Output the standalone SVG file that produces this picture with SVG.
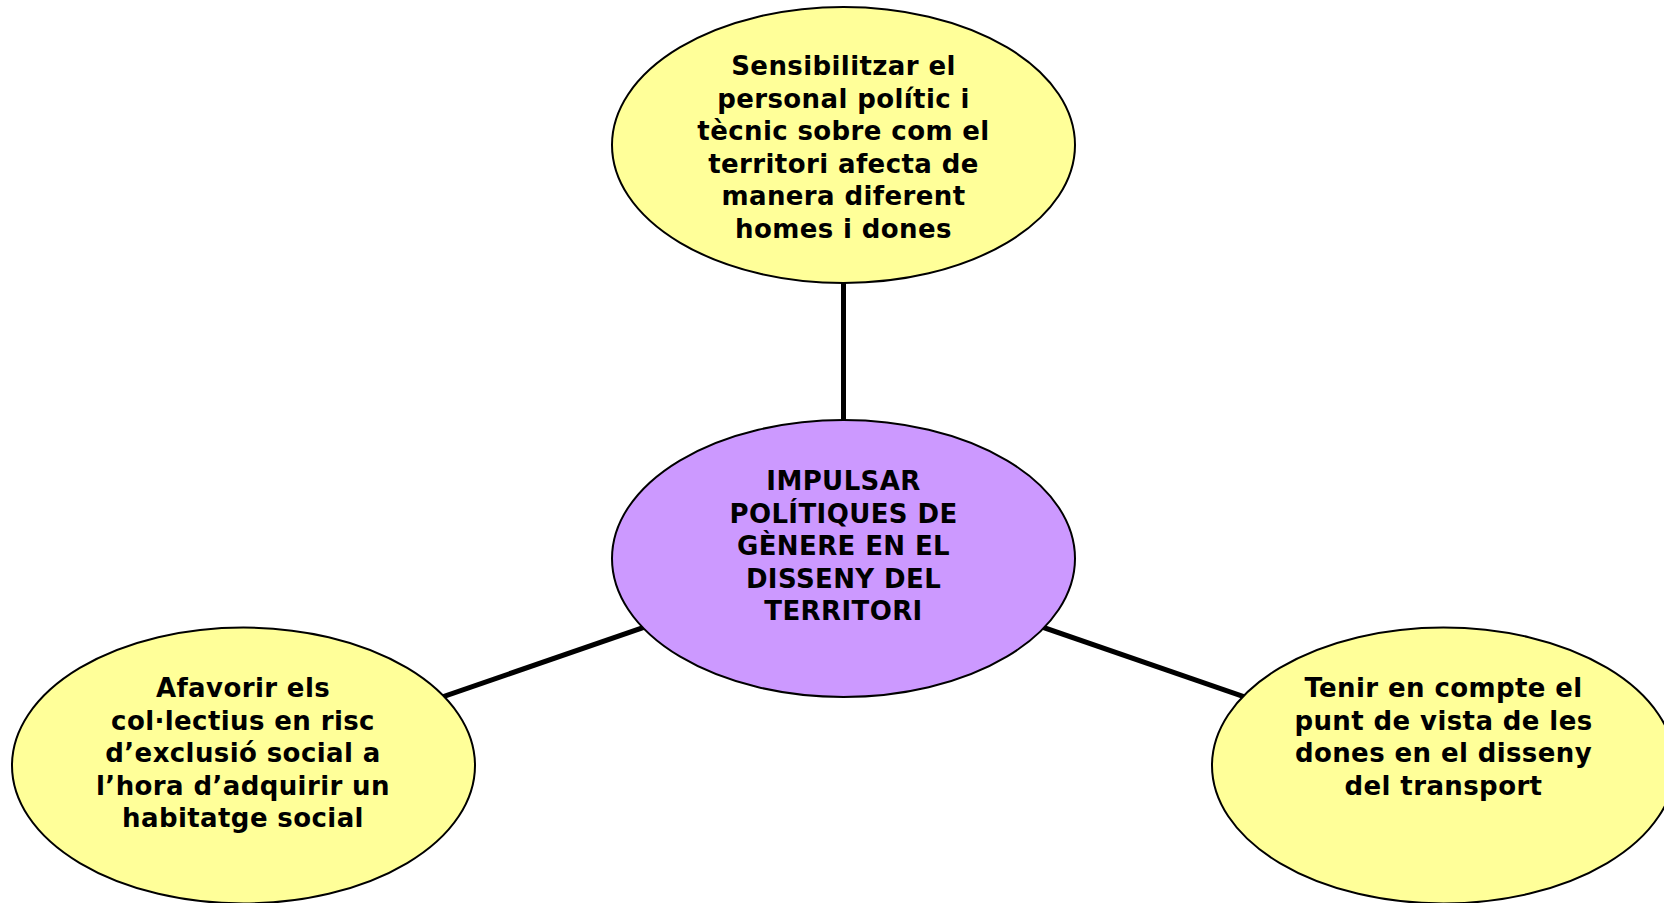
<svg xmlns="http://www.w3.org/2000/svg" width="1664" height="903" viewBox="0 0 1664 903">
<style>
.n{stroke:#000;stroke-width:2}
.y{fill:#FFFF99}
.p{fill:#CC99FF}
.c{stroke:#000;stroke-width:5;fill:none}
text{font-family:"DejaVu Sans",Verdana,sans-serif;font-weight:bold;font-size:26px;letter-spacing:0.4px;text-anchor:middle;fill:#000}
</style>
<rect width="1664" height="903" fill="#fff"/>
<g id="connectors">
<line class="c" x1="843.5" y1="558.5" x2="843.5" y2="145"/>
<line class="c" x1="843.5" y1="558.5" x2="243.5" y2="765.5"/>
<line class="c" x1="843.5" y1="558.5" x2="1443.5" y2="765.5"/>
</g>
<g id="top">
<ellipse class="n y" cx="843.5" cy="145" rx="231.5" ry="138"/>
<text x="843.5" y="75">Sensibilitzar el</text>
<text x="843.5" y="107.5">personal polític i</text>
<text x="843.5" y="140">tècnic sobre com el</text>
<text x="843.5" y="172.5">territori afecta de</text>
<text x="843.5" y="205">manera diferent</text>
<text x="843.5" y="237.5">homes i dones</text>
</g>
<g id="center">
<ellipse class="n p" cx="843.5" cy="558.5" rx="231.5" ry="138.5"/>
<text x="843.5" y="490">IMPULSAR</text>
<text x="843.5" y="522.5">POLÍTIQUES DE</text>
<text x="843.5" y="555">GÈNERE EN EL</text>
<text x="843.5" y="587.5">DISSENY DEL</text>
<text x="843.5" y="620">TERRITORI</text>
</g>
<g id="left">
<ellipse class="n y" cx="243.5" cy="765.5" rx="231.5" ry="138"/>
<text x="243" y="697">Afavorir els</text>
<text x="243" y="729.5">col·lectius en risc</text>
<text x="243" y="762">d’exclusió social a</text>
<text x="243" y="794.5">l’hora d’adquirir un</text>
<text x="243" y="827">habitatge social</text>
</g>
<g id="right">
<ellipse class="n y" cx="1443.5" cy="765.5" rx="231.5" ry="138"/>
<text x="1443.5" y="697">Tenir en compte el</text>
<text x="1443.5" y="729.5">punt de vista de les</text>
<text x="1443.5" y="762">dones en el disseny</text>
<text x="1443.5" y="794.5">del transport</text>
</g>
</svg>
